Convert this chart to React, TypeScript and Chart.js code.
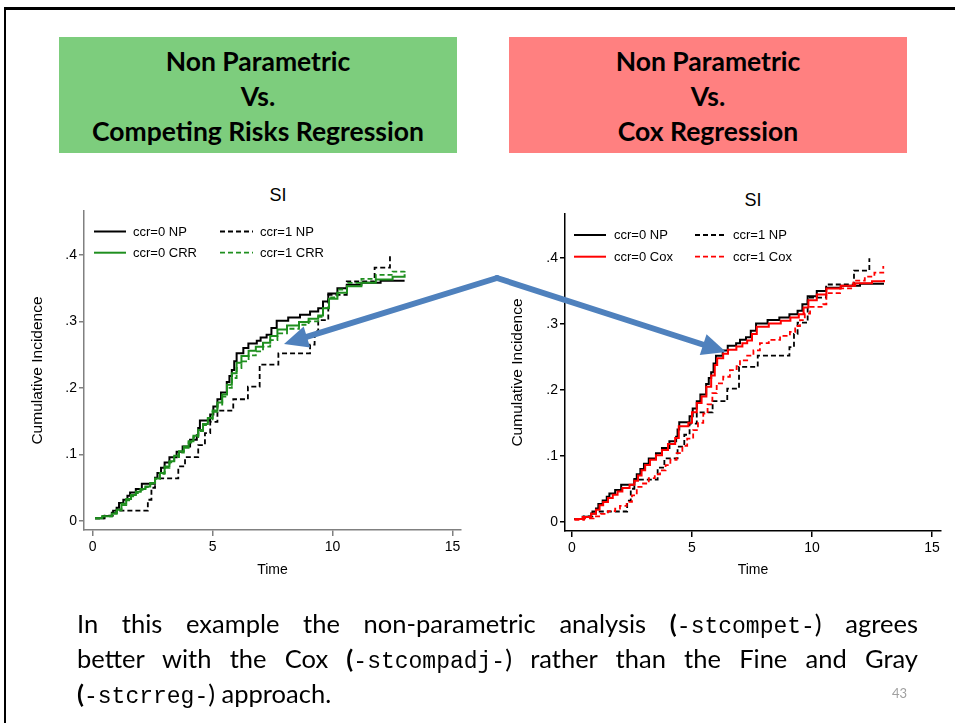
import React, { useEffect, useRef } from "react";
import { Chart, registerables } from "chart.js";

Chart.register(...registerables);

// ---------- data (time, cumulative incidence) ----------
const npCcr0: [number, number][] = [
  [0.1, 0.004], [0.45, 0.0075], [0.8, 0.0125], [1.0, 0.02], [1.1, 0.027], [1.28, 0.032],
  [1.45, 0.038], [1.56, 0.043], [1.8, 0.048], [2.05, 0.056], [2.6, 0.065], [2.7, 0.072],
  [2.85, 0.08], [3.0, 0.088], [3.2, 0.096], [3.5, 0.104], [3.75, 0.112], [4.06, 0.122],
  [4.34, 0.129], [4.4, 0.14], [4.47, 0.151], [4.9, 0.16], [5.03, 0.172], [5.2, 0.183],
  [5.35, 0.193], [5.59, 0.209], [5.7, 0.218], [5.8, 0.227], [5.9, 0.24], [6.0, 0.252],
  [6.28, 0.26], [6.49, 0.267], [6.84, 0.271], [7.0, 0.276], [7.25, 0.28], [7.45, 0.29],
  [7.67, 0.301], [8.15, 0.306], [8.64, 0.31], [9.06, 0.315], [9.4, 0.32], [9.6, 0.33],
  [9.82, 0.342], [10.2, 0.35], [10.59, 0.355], [11.2, 0.358], [12.0, 0.361], [13.0, 0.361],
];

const npCcr1: [number, number][] = [
  [0.1, 0.004], [0.5, 0.008], [0.85, 0.0155], [2.3, 0.032], [2.45, 0.05], [2.6, 0.064],
  [3.57, 0.082], [3.85, 0.096], [4.4, 0.114], [4.68, 0.132], [4.9, 0.149], [5.2, 0.166],
  [5.86, 0.183], [6.47, 0.202], [6.96, 0.235], [7.74, 0.252], [9.06, 0.265], [9.25, 0.285],
  [9.4, 0.302], [9.82, 0.34], [10.59, 0.36], [11.75, 0.381], [12.39, 0.4],
];

const crrCcr0: [number, number][] = [
  [0.1, 0.004], [0.4, 0.007], [0.8, 0.011], [1.0, 0.017], [1.2, 0.026], [1.4, 0.033],
  [1.6, 0.039], [1.8, 0.044], [2.0, 0.048], [2.2, 0.052], [2.4, 0.057], [2.6, 0.064],
  [2.8, 0.072], [3.0, 0.082], [3.2, 0.09], [3.4, 0.098], [3.6, 0.105], [3.8, 0.112],
  [4.0, 0.12], [4.2, 0.128], [4.4, 0.137], [4.6, 0.146], [4.8, 0.155], [5.0, 0.166],
  [5.2, 0.178], [5.4, 0.19], [5.6, 0.205], [5.8, 0.222], [6.0, 0.238], [6.2, 0.248],
  [6.5, 0.256], [6.8, 0.262], [7.1, 0.268], [7.4, 0.278], [7.7, 0.288], [8.1, 0.294],
  [8.6, 0.299], [9.0, 0.304], [9.4, 0.309], [9.6, 0.32], [9.85, 0.334], [10.2, 0.343],
  [10.6, 0.353], [11.2, 0.358], [11.8, 0.363], [12.5, 0.367], [13.0, 0.371],
];

const crrCcr1: [number, number][] = [
  [0.1, 0.004], [0.4, 0.007], [0.8, 0.012], [1.0, 0.016], [1.2, 0.024], [1.4, 0.031],
  [1.6, 0.037], [1.8, 0.042], [2.0, 0.047], [2.2, 0.051], [2.4, 0.056], [2.6, 0.063],
  [2.8, 0.071], [3.0, 0.08], [3.2, 0.088], [3.4, 0.096], [3.6, 0.103], [3.8, 0.11],
  [4.0, 0.118], [4.2, 0.126], [4.4, 0.135], [4.6, 0.144], [4.8, 0.153], [5.0, 0.164],
  [5.2, 0.175], [5.4, 0.187], [5.6, 0.2], [5.8, 0.215], [6.0, 0.23], [6.2, 0.24],
  [6.5, 0.249], [6.8, 0.255], [7.1, 0.262], [7.4, 0.272], [7.7, 0.282], [8.1, 0.289],
  [8.6, 0.295], [9.0, 0.3], [9.4, 0.307], [9.6, 0.32], [9.85, 0.336], [10.2, 0.348],
  [10.6, 0.358], [11.2, 0.364], [11.8, 0.37], [12.5, 0.375], [13.0, 0.379],
];

const coxCcr0: [number, number][] = [
  [0.1, 0.004], [0.45, 0.007], [0.8, 0.012], [1.0, 0.018], [1.15, 0.025], [1.3, 0.03],
  [1.5, 0.036], [1.7, 0.041], [1.9, 0.046], [2.1, 0.051], [2.4, 0.056], [2.6, 0.062],
  [2.75, 0.07], [2.9, 0.078], [3.05, 0.086], [3.25, 0.094], [3.5, 0.101], [3.75, 0.109],
  [4.0, 0.118], [4.3, 0.127], [4.45, 0.145], [4.85, 0.15], [5.0, 0.166], [5.2, 0.18],
  [5.4, 0.19], [5.6, 0.205], [5.8, 0.222], [5.95, 0.238], [6.05, 0.248], [6.3, 0.255],
  [6.5, 0.261], [6.85, 0.266], [7.1, 0.271], [7.3, 0.275], [7.5, 0.285], [7.7, 0.296],
  [8.2, 0.301], [8.7, 0.305], [9.1, 0.31], [9.45, 0.315], [9.65, 0.325], [9.85, 0.336],
  [10.2, 0.345], [10.6, 0.354], [11.2, 0.358], [11.8, 0.362], [12.5, 0.365], [13.0, 0.367],
];

const coxCcr1: [number, number][] = [
  [0.1, 0.003], [0.5, 0.005], [0.9, 0.008], [1.2, 0.012], [1.5, 0.016], [1.8, 0.02],
  [2.0, 0.024], [2.28, 0.03], [2.5, 0.04], [2.7, 0.053], [2.9, 0.058], [3.2, 0.066],
  [3.45, 0.072], [3.67, 0.078], [3.9, 0.086], [4.1, 0.094], [4.36, 0.104], [4.6, 0.115],
  [4.8, 0.126], [5.05, 0.139], [5.25, 0.15], [5.47, 0.164], [5.65, 0.178], [5.85, 0.195],
  [6.03, 0.21], [6.3, 0.22], [6.58, 0.23], [6.86, 0.236], [7.0, 0.245], [7.3, 0.252],
  [7.56, 0.26], [7.83, 0.271], [8.2, 0.276], [8.67, 0.282], [9.08, 0.288], [9.3, 0.297],
  [9.5, 0.306], [9.7, 0.316], [9.92, 0.326], [10.47, 0.33], [10.6, 0.347], [11.17, 0.354],
  [11.72, 0.366], [12.2, 0.372], [12.6, 0.378], [12.97, 0.388],
];

const xTickValues = [0, 5, 10, 15];
const yTickValues = [0, 0.1, 0.2, 0.3, 0.4];
const leftLabels = ["ccr=0 NP", "ccr=1 NP", "ccr=0 CRR", "ccr=1 CRR"];
const rightLabels = ["ccr=0 NP", "ccr=1 NP", "ccr=0 Cox", "ccr=1 Cox"];

// ---------- styling ----------
const STATA_FONT = '"Liberation Sans", Arial, sans-serif';
const SLIDE_FONT = 'Lato, "Open Sans", sans-serif';
const GREEN = "#1f8f1f";
const RED = "#ff0000";
const BLUE = "#4f81bd";

type Series = { label: string; pts: [number, number][]; color: string; dashed: boolean };

type ChartCfg = {
  left: number; top: number; width: number; height: number;
  pad: { left: number; right: number; top: number; bottom: number };
  yWidth: number; xHeight: number;
  xMin: number; xMax: number; yMin: number; yMax: number;
  axisColor: string;
  series: Series[];
};

function KMChart({ cfg }: { cfg: ChartCfg }) {
  const ref = useRef<HTMLCanvasElement | null>(null);
  useEffect(() => {
    if (!ref.current) return;
    const tickFont = { family: STATA_FONT, size: 14 };
    const chart = new Chart(ref.current, {
      type: "line",
      data: {
        datasets: cfg.series.map((s) => ({
          label: s.label,
          data: s.pts.map(([x, y]) => ({ x, y })),
          borderColor: s.color,
          backgroundColor: s.color,
          borderWidth: s.dashed ? 1.8 : 2,
          borderDash: s.dashed ? [5, 3] : [],
          stepped: "before" as const,
          pointRadius: 0,
          fill: false,
        })),
      },
      options: {
        animation: false,
        responsive: false,
        maintainAspectRatio: false,
        events: [],
        layout: { padding: cfg.pad },
        plugins: {
          legend: { display: false },
          tooltip: { enabled: false },
          title: { display: false },
        },
        scales: {
          x: {
            type: "linear",
            min: cfg.xMin,
            max: cfg.xMax,
            afterBuildTicks: (s: any) => {
              s.ticks = xTickValues.map((v) => ({ value: v }));
            },
            afterFit: (s: any) => {
              s.height = cfg.xHeight;
            },
            grid: {
              display: true,
              drawOnChartArea: false,
              drawTicks: true,
              tickLength: 6,
              color: cfg.axisColor,
              lineWidth: 1.5,
            },
            border: { display: true, color: cfg.axisColor, width: 1.5 },
            ticks: {
              font: tickFont,
              color: "#000",
              padding: 3,
              maxRotation: 0,
              autoSkip: false,
              callback: (v: any) => String(v),
            },
            title: { display: true, text: "Time", font: { family: STATA_FONT, size: 14 }, color: "#000", padding: 0 },
          },
          y: {
            type: "linear",
            min: cfg.yMin,
            max: cfg.yMax,
            afterBuildTicks: (s: any) => {
              s.ticks = yTickValues.map((v) => ({ value: v }));
            },
            afterFit: (s: any) => {
              s.width = cfg.yWidth;
            },
            grid: {
              display: true,
              drawOnChartArea: false,
              drawTicks: true,
              tickLength: 5,
              color: cfg.axisColor,
              lineWidth: 1.5,
            },
            border: { display: true, color: cfg.axisColor, width: 1.5 },
            ticks: {
              font: tickFont,
              color: "#000",
              padding: 2,
              autoSkip: false,
              callback: (v: any) => (Number(v) === 0 ? "0" : "." + Math.round(Number(v) * 10)),
            },
            title: {
              display: true,
              text: "Cumulative Incidence",
              font: { family: STATA_FONT, size: 15.5 },
              color: "#000",
              padding: 0,
            },
          },
        },
      } as any,
    });
    return () => chart.destroy();
  }, []);
  return (
    <canvas
      ref={ref}
      width={cfg.width}
      height={cfg.height}
      style={{ position: "absolute", left: cfg.left, top: cfg.top, width: cfg.width, height: cfg.height }}
    />
  );
}

const leftSeries: Series[] = [
  { label: leftLabels[2], pts: crrCcr0, color: GREEN, dashed: false },
  { label: leftLabels[3], pts: crrCcr1, color: GREEN, dashed: true },
  { label: leftLabels[0], pts: npCcr0, color: "#000", dashed: false },
  { label: leftLabels[1], pts: npCcr1, color: "#000", dashed: true },
];

const rightSeries: Series[] = [
  { label: rightLabels[2], pts: coxCcr0, color: RED, dashed: false },
  { label: rightLabels[3], pts: coxCcr1, color: RED, dashed: true },
  { label: rightLabels[0], pts: npCcr0, color: "#000", dashed: false },
  { label: rightLabels[1], pts: npCcr1, color: "#000", dashed: true },
];

const leftCfg: ChartCfg = {
  left: 20, top: 180, width: 460, height: 410,
  pad: { left: 8, right: 19, top: 31, bottom: 11 },
  yWidth: 56, xHeight: 49,
  xMin: -0.36, xMax: 15.35, yMin: -0.0135, yMax: 0.466,
  axisColor: "#808080",
  series: leftSeries,
};

const rightCfg: ChartCfg = {
  left: 500, top: 180, width: 455, height: 410,
  pad: { left: 8, right: 14, top: 34, bottom: 11 },
  yWidth: 57, xHeight: 48,
  xMin: -0.29, xMax: 15.375, yMin: -0.0141, yMax: 0.467,
  axisColor: "#000",
  series: rightSeries,
};

function arrow(x0: number, y0: number, x1: number, y1: number, headLen: number, headHalf: number) {
  const dx = x1 - x0, dy = y1 - y0;
  const L = Math.hypot(dx, dy);
  const ux = dx / L, uy = dy / L;
  const bx = x1 - ux * headLen, by = y1 - uy * headLen;
  const nx = -uy, ny = ux;
  const poly = `${x1},${y1} ${bx + nx * headHalf},${by + ny * headHalf} ${bx - nx * headHalf},${by - ny * headHalf}`;
  return { bx: bx + ux * 2, by: by + uy * 2, poly };
}

function LegendItems({ labels, colors, col1, col2, rows }: {
  labels: string[]; colors: string[]; col1: [number, number, number]; col2: [number, number, number]; rows: [number, number];
}) {
  const items = [0, 1, 2, 3].map((i) => {
    const col = i % 2 === 0 ? col1 : col2;
    const y = rows[i < 2 ? 0 : 1];
    return { i, x1: col[0], x2: col[1], tx: col[2], y, dashed: i % 2 === 1 };
  });
  return (
    <>
      <svg style={{ position: "absolute", left: 0, top: 0, overflow: "visible" }} width={955} height={723}>
        {items.map((it) => (
          <line
            key={it.i}
            x1={it.x1}
            x2={it.x2}
            y1={it.y}
            y2={it.y}
            stroke={colors[it.i]}
            strokeWidth={it.dashed ? 1.8 : 2}
            strokeDasharray={it.dashed ? "5 3" : undefined}
          />
        ))}
      </svg>
      {items.map((it) => (
        <div
          key={"t" + it.i}
          style={{
            position: "absolute",
            left: it.tx,
            top: it.y - 9,
            height: 18,
            lineHeight: "18px",
            fontFamily: STATA_FONT,
            fontSize: 13,
            color: "#000",
            whiteSpace: "nowrap",
          }}
        >
          {labels[it.i]}
        </div>
      ))}
    </>
  );
}

export default function App() {
  const a1 = arrow(497, 278, 284, 344, 24, 11);
  const a2 = arrow(497, 278, 726, 352, 24, 11);
  const headerStyle = (left: number, bg: string): React.CSSProperties => ({
    position: "absolute",
    left,
    top: 37,
    width: 398,
    height: 116,
    background: bg,
    boxSizing: "border-box",
    paddingTop: 6.5,
    textAlign: "center",
    fontFamily: SLIDE_FONT,
    fontWeight: 700,
    fontSize: 26.5,
    lineHeight: "35px",
    color: "#000",
  });
  const lineStyle = (top: number, justify: boolean): React.CSSProperties => ({
    position: "absolute",
    left: 77,
    top: top - 17.5,
    width: 841,
    height: 35,
    lineHeight: "35px",
    fontFamily: SLIDE_FONT,
    fontSize: 25.5,
    color: "#000",
    whiteSpace: justify ? "normal" : "nowrap",
    textAlign: justify ? "justify" : "left",
    textAlignLast: justify ? "justify" : "left",
  } as React.CSSProperties);
  const mono: React.CSSProperties = { fontFamily: '"Liberation Mono", "DejaVu Sans Mono", monospace', fontSize: 23 };
  const paren: React.CSSProperties = { fontWeight: 700 };
  return (
    <div style={{ position: "absolute", left: 0, top: 0, width: 955, height: 723, background: "#fff", overflow: "hidden" }}>
      <div
        style={{
          position: "absolute",
          left: 4,
          top: 7,
          width: 960,
          height: 730,
          borderTop: "3px solid #000",
          borderLeft: "2px solid #000",
          boxSizing: "border-box",
        }}
      />
      <div style={headerStyle(59, "rgb(125,205,125)")}>
        Non Parametric<br />Vs.<br />Competing Risks Regression
      </div>
      <div style={headerStyle(509, "rgb(255,128,128)")}>
        Non Parametric<br />Vs.<br />Cox Regression
      </div>

      <div style={{ position: "absolute", left: 228, width: 100, top: 184, textAlign: "center", fontFamily: STATA_FONT, fontSize: 18, lineHeight: "22px" }}>SI</div>
      <div style={{ position: "absolute", left: 703, width: 100, top: 189, textAlign: "center", fontFamily: STATA_FONT, fontSize: 18, lineHeight: "22px" }}>SI</div>

      <KMChart cfg={leftCfg} />
      <KMChart cfg={rightCfg} />

      <LegendItems
        labels={leftLabels}
        colors={["#000", "#000", GREEN, GREEN]}
        col1={[94, 126, 133]}
        col2={[220, 253, 260]}
        rows={[231.5, 252.7]}
      />
      <LegendItems
        labels={rightLabels}
        colors={["#000", "#000", RED, RED]}
        col1={[574, 606, 614]}
        col2={[695, 727, 733]}
        rows={[235, 256.7]}
      />

      <svg style={{ position: "absolute", left: 0, top: 0 }} width={955} height={723}>
        <line x1={497} y1={278} x2={a1.bx} y2={a1.by} stroke={BLUE} strokeWidth={6} strokeLinecap="round" />
        <polygon points={a1.poly} fill={BLUE} />
        <line x1={497} y1={278} x2={a2.bx} y2={a2.by} stroke={BLUE} strokeWidth={6} strokeLinecap="round" />
        <polygon points={a2.poly} fill={BLUE} />
      </svg>

      <div style={lineStyle(623, true)}>
        In this example the non-parametric analysis <span style={paren}>(</span><span style={mono}>-stcompet-</span>) agrees
      </div>
      <div style={lineStyle(658, true)}>
        better with the Cox <span style={paren}>(</span><span style={mono}>-stcompadj-</span>) rather than the Fine and Gray
      </div>
      <div style={lineStyle(693, false)}>
        <span style={paren}>(</span><span style={mono}>-stcrreg-</span>) approach.
      </div>
      <div style={{ position: "absolute", left: 892, top: 684, fontFamily: SLIDE_FONT, fontSize: 13, color: "#a0a0a0", lineHeight: "18px" }}>43</div>
    </div>
  );
}
